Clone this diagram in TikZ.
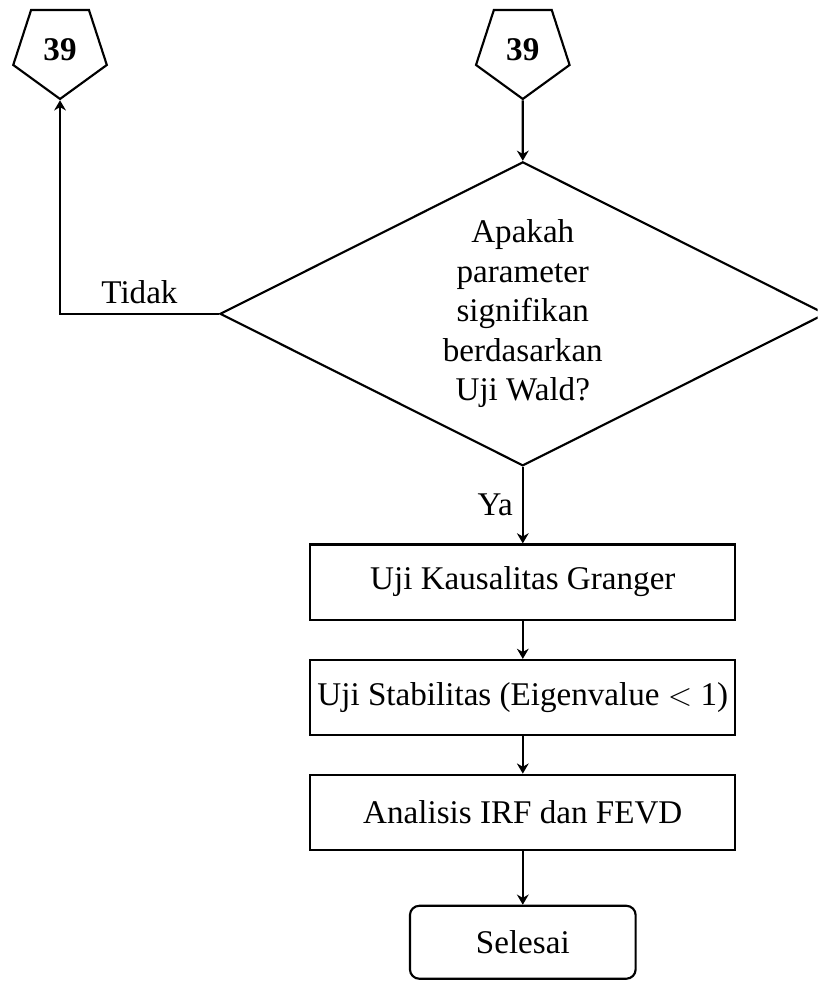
\documentclass[tikz,border=0pt]{standalone}
\usepackage{fontspec}
\setmainfont{Liberation Serif}
\usetikzlibrary{shapes.geometric,arrows.meta}
\tikzset{
	every node/.style={font=\fontsize{12.4}{14.8}\selectfont},
	konektor/.style={draw, thick, regular polygon, regular polygon sides=5, shape border rotate=180, minimum size=1.295cm, inner sep=0pt, font=\fontsize{12.4}{14.8}\selectfont\bfseries},
	keputusan/.style={draw, thick, diamond, aspect=2, minimum width=7.97cm, minimum height=4cm, inner sep=0pt, align=center},
	proses/.style={draw, thick, rectangle, minimum width=5.59cm, minimum height=0.99cm, inner xsep=1pt},
	terminal/.style={draw, thick, rectangle, rounded corners=3.5pt, minimum width=2.97cm, minimum height=0.96cm},
	panah/.style={thick, -{Stealth[length=3.8pt, width=4.4pt]}}
}

\begin{document}
\begin{tikzpicture}
	%%%%% START %%%%%
	
	\clip (0, 0) rectangle (10.76, -12.91);
	
	\node[konektor] (p1) at (0.79, -0.655) {39};
	\node[konektor] (p2) at (6.88, -0.655) {39};
	
	\node[keputusan] (wald) at (6.88, -4.13) {Apakah\\parameter\\signifikan\\berdasarkan\\Uji Wald?};
	
	\node[proses] (granger) at (6.88, -7.66) {Uji Kausalitas Granger};
	\node[proses] (stabil) at (6.88, -9.18) {Uji Stabilitas (Eigenvalue $<$ 1)};
	\node[proses] (irf) at (6.88, -10.69) {Analisis IRF dan FEVD};
	\node[terminal] (selesai) at (6.88, -12.40) {Selesai};
	
	\draw[panah] (p2.south) -- (wald.north);
	\draw[panah] (wald.west) -- node[above] {Tidak} (wald.west -| p1.south) -- (p1.south);
	\draw[panah] (wald.south) -- node[left] {Ya} (granger.north);
	\draw[panah] (granger) -- (stabil);
	\draw[panah] (stabil) -- (irf);
	\draw[panah] (irf) -- (selesai);
	
	%%%%% END %%%%%
\end{tikzpicture}
\end{document}
